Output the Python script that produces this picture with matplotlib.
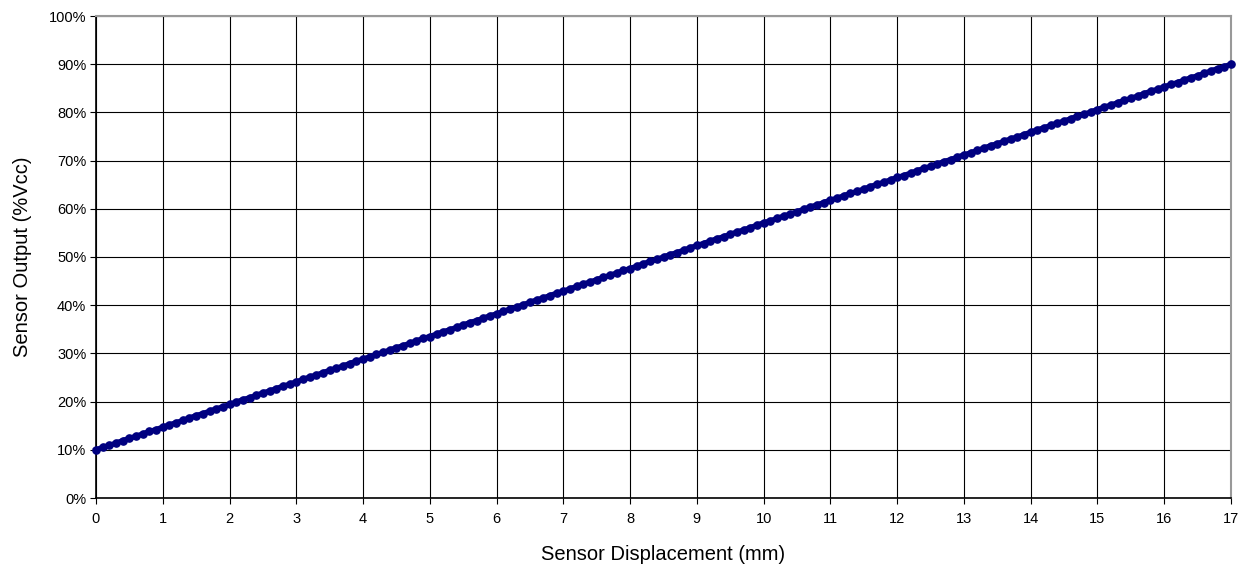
import numpy as np
import matplotlib
matplotlib.use("Agg")
import matplotlib.pyplot as plt
from matplotlib.ticker import FuncFormatter

# Sensor displacement (mm), sampled every 0.1 mm
displacement_mm = np.round(np.arange(0, 171) * 0.1, 1)

# Sensor output (% of Vcc)
output_pct = [
    10.0, 10.5, 10.9, 11.4, 11.9, 12.4, 12.8, 13.3, 13.8, 14.2,
    14.7, 15.2, 15.6, 16.1, 16.6, 17.1, 17.5, 18.0, 18.5, 18.9,
    19.4, 19.9, 20.4, 20.8, 21.3, 21.8, 22.2, 22.7, 23.2, 23.6,
    24.1, 24.6, 25.1, 25.5, 26.0, 26.5, 26.9, 27.4, 27.9, 28.4,
    28.8, 29.3, 29.8, 30.2, 30.7, 31.2, 31.6, 32.1, 32.6, 33.1,
    33.5, 34.0, 34.5, 34.9, 35.4, 35.9, 36.4, 36.8, 37.3, 37.8,
    38.2, 38.7, 39.2, 39.6, 40.1, 40.6, 41.1, 41.5, 42.0, 42.5,
    42.9, 43.4, 43.9, 44.4, 44.8, 45.3, 45.8, 46.2, 46.7, 47.2,
    47.6, 48.1, 48.6, 49.1, 49.5, 50.0, 50.5, 50.9, 51.4, 51.9,
    52.4, 52.8, 53.3, 53.8, 54.2, 54.7, 55.2, 55.6, 56.1, 56.6,
    57.1, 57.5, 58.0, 58.5, 58.9, 59.4, 59.9, 60.4, 60.8, 61.3,
    61.8, 62.2, 62.7, 63.2, 63.6, 64.1, 64.6, 65.1, 65.5, 66.0,
    66.5, 66.9, 67.4, 67.9, 68.4, 68.8, 69.3, 69.8, 70.2, 70.7,
    71.2, 71.6, 72.1, 72.6, 73.1, 73.5, 74.0, 74.5, 74.9, 75.4,
    75.9, 76.4, 76.8, 77.3, 77.8, 78.2, 78.7, 79.2, 79.6, 80.1,
    80.6, 81.1, 81.5, 82.0, 82.5, 82.9, 83.4, 83.9, 84.4, 84.8,
    85.3, 85.8, 86.2, 86.7, 87.2, 87.6, 88.1, 88.6, 89.1, 89.5,
    90.0,
]

x_ticks = list(range(0, 18))
y_ticks = list(range(0, 101, 10))
x_label = "Sensor Displacement (mm)"
y_label = "Sensor Output (%Vcc)"

plt.rcParams['font.family'] = ['Liberation Sans', 'DejaVu Sans']

fig = plt.figure(figsize=(12.43, 5.67), dpi=100)
ax = fig.add_axes([96 / 1243, 69 / 567, (1231 - 96) / 1243, (498 - 16) / 567])

ax.plot(displacement_mm, output_pct, color='#000080', linewidth=3.8,
        marker='o', markersize=5.2, markerfacecolor='#000080',
        markeredgecolor='#000080', zorder=3, clip_on=False)

ax.set_xlim(0, 17)
ax.set_ylim(0, 100)
ax.set_xticks(x_ticks)
ax.set_yticks(y_ticks)
ax.yaxis.set_major_formatter(FuncFormatter(lambda v, p: f"{int(v)}%"))
ax.grid(True, color='black', linewidth=0.8)
ax.set_axisbelow(True)

for side in ['left', 'bottom']:
    ax.spines[side].set_color('black')
    ax.spines[side].set_linewidth(1.2)
for side in ['top', 'right']:
    ax.spines[side].set_color('#999999')
    ax.spines[side].set_linewidth(1.5)

ax.tick_params(axis='both', direction='out', length=4, width=0.8,
               labelsize=10.5, colors='black', pad=3)
ax.tick_params(axis='x', pad=6)

ax.set_xlabel(x_label, fontsize=14.5, labelpad=14)
ax.set_ylabel(y_label, fontsize=14.5, labelpad=12)

fig.savefig("out.png", dpi=100)
